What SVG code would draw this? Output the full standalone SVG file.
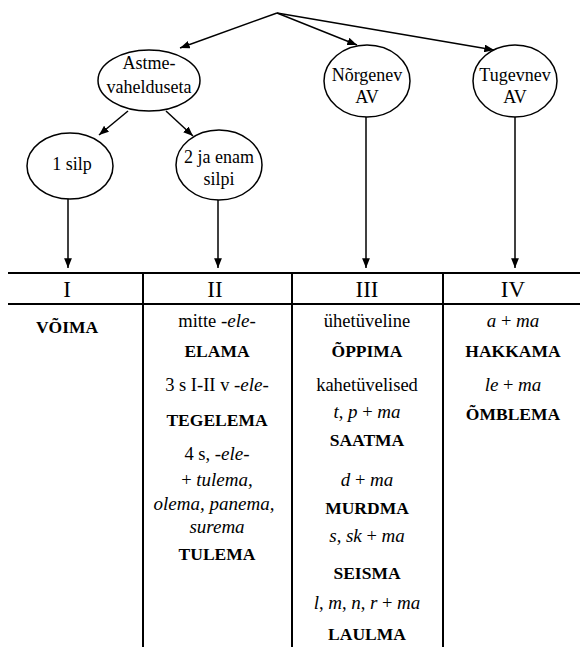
<svg xmlns="http://www.w3.org/2000/svg" width="580" height="647" viewBox="0 0 580 647" font-family="'Liberation Serif', 'Times New Roman', 'DejaVu Serif', serif">
<defs>
<style>
text{font-family:'Liberation Serif','Times New Roman','DejaVu Serif',serif;fill:#000;text-anchor:middle}
.node ellipse{fill:#fff;stroke:#000;stroke-width:1.5}
.nt{font-size:18px}
.conn line{stroke:#000;stroke-width:1.5;marker-end:url(#ah)}
.grid line{stroke:#000;stroke-width:2}
.hd{font-size:23px}
.tx{font-size:18.5px}
.b{font-weight:bold;font-size:17.5px}
.i{font-style:italic;font-size:19px}
</style>
<marker id="ah" viewBox="0 0 10 8" refX="10" refY="4" markerWidth="6.5" markerHeight="5.2" orient="auto" markerUnits="strokeWidth">
<path d="M0,0 L10,4 L0,8 z" fill="#000"/>
</marker>
</defs>
<rect width="580" height="647" fill="#fff"/>
<g id="connectors" class="conn">
<line x1="277" y1="13" x2="180" y2="48"/>
<line x1="277" y1="13" x2="357" y2="45"/>
<line x1="277" y1="13" x2="494" y2="50"/>
<line x1="128" y1="111" x2="99" y2="135"/>
<line x1="166" y1="111" x2="193" y2="136"/>
<line x1="68" y1="199" x2="68" y2="268"/>
<line x1="218" y1="200" x2="218" y2="268"/>
<line x1="366" y1="117" x2="366" y2="268"/>
<line x1="515" y1="117" x2="515" y2="268"/>
</g>
<g id="astme" class="node">
<ellipse cx="149" cy="80.5" rx="51" ry="30.5"/>
<text class="nt" x="149" y="69">Astme-</text>
<text class="nt" x="149" y="93">vahelduseta</text>
</g>
<g id="silp1" class="node">
<ellipse cx="70" cy="166" rx="43" ry="33"/>
<text class="nt" x="72" y="170">1 silp</text>
</g>
<g id="silp2" class="node">
<ellipse cx="219" cy="165" rx="43" ry="35"/>
<text class="nt" x="219" y="163">2 ja enam</text>
<text class="nt" x="219" y="185">silpi</text>
</g>
<g id="norgenev" class="node">
<ellipse cx="367" cy="81" rx="43" ry="36"/>
<text class="nt" x="367" y="81">Nõrgenev</text>
<text class="nt" x="367" y="103">AV</text>
</g>
<g id="tugevnev" class="node">
<ellipse cx="515" cy="81" rx="42" ry="36"/>
<text class="nt" x="515" y="81">Tugevnev</text>
<text class="nt" x="515" y="103">AV</text>
</g>
<g id="table" class="grid">
<line x1="8" y1="273" x2="580" y2="273"/>
<line x1="8" y1="304" x2="580" y2="304"/>
<line x1="143" y1="273" x2="143" y2="647"/>
<line x1="292" y1="273" x2="292" y2="647"/>
<line x1="443" y1="273" x2="443" y2="647"/>
</g>
<g id="col1">
<text class="hd" x="67" y="297">I</text>
<text class="tx b" x="67" y="333">VÕIMA</text>
</g>
<g id="col2">
<text class="hd" x="215" y="297">II</text>
<text class="tx" x="217" y="327">mitte <tspan class="i">-ele-</tspan></text>
<text class="tx b" x="217" y="357">ELAMA</text>
<text class="tx" x="217" y="391">3 s I-II v <tspan class="i">-ele-</tspan></text>
<text class="tx b" x="217" y="426">TEGELEMA</text>
<text class="tx" x="217" y="460">4 s, <tspan class="i">-ele-</tspan></text>
<text class="tx" x="217" y="486">+ <tspan class="i">tulema,</tspan></text>
<text class="tx i" x="214" y="510">olema, panema,</text>
<text class="tx i" x="217" y="533">surema</text>
<text class="tx b" x="217" y="560">TULEMA</text>
</g>
<g id="col3">
<text class="hd" x="367" y="297">III</text>
<text class="tx" x="367" y="327">ühetüveline</text>
<text class="tx b" x="367" y="357">ÕPPIMA</text>
<text class="tx" x="367" y="391">kahetüvelised</text>
<text class="tx" x="367" y="418"><tspan class="i">t</tspan>, <tspan class="i">p</tspan> + <tspan class="i">ma</tspan></text>
<text class="tx b" x="367" y="446">SAATMA</text>
<text class="tx" x="367" y="486"><tspan class="i">d</tspan> + <tspan class="i">ma</tspan></text>
<text class="tx b" x="367" y="514">MURDMA</text>
<text class="tx" x="367" y="542"><tspan class="i">s</tspan>, <tspan class="i">sk</tspan> + <tspan class="i">ma</tspan></text>
<text class="tx b" x="367" y="579">SEISMA</text>
<text class="tx" x="367" y="609"><tspan class="i">l</tspan>, <tspan class="i">m</tspan>, <tspan class="i">n</tspan>, <tspan class="i">r</tspan> + <tspan class="i">ma</tspan></text>
<text class="tx b" x="367" y="640">LAULMA</text>
</g>
<g id="col4">
<text class="hd" x="513" y="297">IV</text>
<text class="tx" x="513" y="327"><tspan class="i">a</tspan> + <tspan class="i">ma</tspan></text>
<text class="tx b" x="513" y="357">HAKKAMA</text>
<text class="tx" x="513" y="391"><tspan class="i">le</tspan> + <tspan class="i">ma</tspan></text>
<text class="tx b" x="513" y="420">ÕMBLEMA</text>
</g>
</svg>
